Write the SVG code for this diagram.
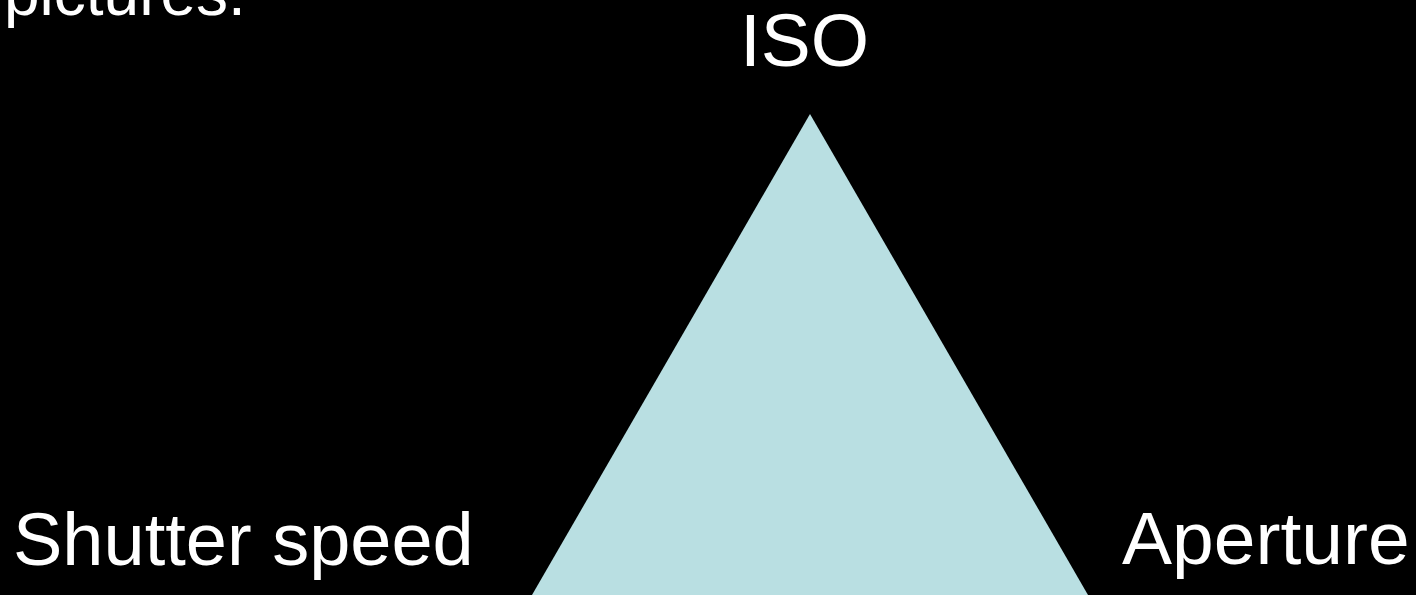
<svg xmlns="http://www.w3.org/2000/svg" width="1416" height="595" viewBox="0 0 1416 595">
  <style>
    .t { font-family: "Liberation Sans", Arial, sans-serif; fill: #FFFFFF; }
  </style>
  <rect x="0" y="0" width="1416" height="595" fill="#000000"/>
  <text class="t" x="4" y="15" font-size="64">pictures.</text>
  <g id="triangle">
    <polygon points="810,114 1088,595 532,595" fill="#B9DFE2"/>
  </g>
  <g id="iso">
    <text class="t" x="740" y="66" font-size="75">ISO</text>
  </g>
  <g id="shutter">
    <text class="t" x="13" y="565" font-size="74">Shutter speed</text>
  </g>
  <g id="aperture">
    <text class="t" x="1122" y="564" font-size="75">Aperture</text>
  </g>
  <g id="connectors"></g>
</svg>
